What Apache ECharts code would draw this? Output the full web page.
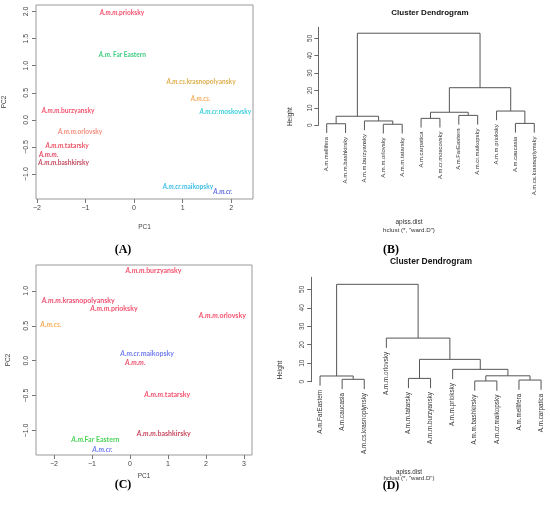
<!DOCTYPE html>
<html>
<head>
<meta charset="utf-8">
<script src="https://cdn.jsdelivr.net/npm/echarts@6/dist/echarts.min.js"></script>
<style>
html,body{margin:0;padding:0;background:#fff}
#chart{width:550px;height:519px}
</style>
</head>
<body>
<div id="chart"></div>
<script>
// panel A - PCA 1
var namesA = ['A.m.m.prioksky','A.m. Far Eastern','A.m.cs.krasnopolyansky','A.m.cs.','A.m.cr.moskovsky','A.m.m.burzyansky','A.m.m.orlovsky','A.m.m.tatarsky','A.m.m.','A.m.m.bashkirsky','A.m.cr.maikopsky','A.m.cr.'];
var pc1A = [-0.25, -0.24, 1.38, 1.37, 1.88, -1.36, -1.11, -1.38, -1.76, -1.45, 1.11, 1.83];
var pc2A = [1.98, 1.20, 0.70, 0.39, 0.14, 0.17, -0.22, -0.48, -0.65, -0.79, -1.24, -1.33];
var xTicksA = [-2, -1, 0, 1, 2];
var yTicksA = [-1.0, -0.5, 0.0, 0.5, 1.0, 1.5, 2.0];

// panel C - PCA 2
var namesC = ['A.m.m.burzyansky','A.m.m.krasnopolyansky','A.m.m.prioksky','A.m.m.orlovsky','A.m.cs.','A.m.cr.maikopsky','A.m.m.','A.m.m.tatarsky','A.m.m.bashkirsky','A.m.Far Eastern','A.m.cr.'];
var pc1C = [0.62, -1.36, -0.42, 2.43, -2.08, 0.45, 0.14, 0.98, 0.89, -0.91, -0.72];
var pc2C = [1.29, 0.86, 0.75, 0.64, 0.51, 0.10, -0.03, -0.49, -1.04, -1.13, -1.27];
var xTicksC = [-2, -1, 0, 1, 2, 3];
var yTicksC = [-1.0, -0.5, 0.0, 0.5, 1.0];

// panel B - dendrogram (leaf order as plotted, R style merge matrix)
var leavesB = ['A.m.mellifera','A.m.m.bashkirsky','A.m.m.burzyansky','A.m.m.orlovsky','A.m.m.tatarsky','A.m.carpatica','A.m.cr.moscovsky','A.m.FarEastern','A.m.cr.maikopsky','A.m.m.prioksky','A.m.caucasia','A.m.cs.krasnoplymsky'];
var mergesB = [[-1,-2],[-4,-5],[-3,2],[1,3],[-6,-7],[-8,-9],[5,6],[-11,-12],[-10,8],[7,9],[4,10]];
var heightsB = [0.9, 0.6, 2.5, 5.2, 4.0, 5.7, 7.5, 1.1, 8.2, 21.6, 52.9];

// panel D - dendrogram
var leavesD = ['A.m.FarEastern','A.m.caucasia','A.m.cs.krasnoplynsky','A.m.m.orlovsky','A.m.m.tatarsky','A.m.m.burzyansky','A.m.m.prioksky','A.m.m.bashkirsky','A.m.cr.maikopsky','A.m.mellifera','A.m.carpatica'];
var mergesD = [[-2,-3],[-1,1],[-5,-6],[-8,-9],[-10,-11],[4,5],[-7,6],[3,7],[-4,8],[2,9]];
var heightsD = [1.3, 3.1, 1.8, 0.4, 0.9, 3.2, 6.7, 12.1, 23.6, 52.7];
var heightTicks = [0, 10, 20, 30, 40, 50];

var colorsA = ['#f0284a','#10c060','#d49a20','#f59a38','#10c4d4','#f0284a','#f2705c','#e8283f','#e01c3c','#b81c34','#10aee0','#3c4cd8'];
var colorsC = ['#f0284a','#e8244c','#f0284a','#f0284a','#f59a30','#4c5ce8','#f0284a','#f0284a','#b81c34','#20c830','#4c5ce8'];

var SANS = 'Liberation Sans';
var LBL = 'Lato';

function minus(s){ return String(s).replace('-', '\u2212'); }

function pcaData(names, xs, ys, colors, fs) {
    return names.map(function(n, i){
        var m = n.match(/^(A\.m\.(?:m\.|cs\.|cr\.)?)(.*)$/);
        return {
            value: [xs[i], ys[i]],
            label: {
                formatter: '{i|' + m[1] + '}{n|' + m[2] + '}',
                rich: {
                    i: {fontStyle:'italic', fontWeight:'bold', color:colors[i], fontSize:fs, fontFamily:LBL},
                    n: {fontWeight:'bold', color:colors[i], fontSize:fs, fontFamily:LBL}
                }
            }
        };
    });
}

// walk the merge matrix, give line segments and leaf ends
function buildDendro(leaves, merges, heights) {
    var hang = 0.1 * Math.max.apply(null, heights);
    var nodeX = [], segs = [], ends = [];
    merges.forEach(function(m, j){
        var h = heights[j];
        var xs = m.map(function(c){ return c < 0 ? -c : nodeX[c-1]; });
        m.forEach(function(c, k){
            var y0;
            if (c < 0) { y0 = h - hang; ends.push([-c, y0, leaves[-c-1]]); }
            else y0 = heights[c-1];
            segs.push([xs[k], y0, xs[k], h]);
        });
        segs.push([xs[0], h, xs[1], h]);
        nodeX[j] = (xs[0] + xs[1]) / 2;
    });
    return {segs: segs, ends: ends};
}

var dB = buildDendro(leavesB, mergesB, heightsB);
var dD = buildDendro(leavesD, mergesD, heightsD);

function pcaX(gi, min, max, ticks, gap) {
    return {
        gridIndex: gi, type: 'value', min: min, max: max,
        splitLine: {show:false}, axisLine: {show:false, onZero:false},
        axisTick: {show:true, length:4, customValues: ticks, lineStyle:{color:'#777'}},
        axisLabel: {customValues: ticks, fontSize:7, fontFamily:SANS, color:'#444', margin:6,
            formatter: function(v){ return minus(v); }},
        name: 'PC1', nameLocation: 'middle', nameGap: gap,
        nameTextStyle: {fontSize:6.5, fontFamily:SANS, color:'#444'}
    };
}
function pcaY(gi, min, max, ticks, gap) {
    return {
        gridIndex: gi, type: 'value', min: min, max: max,
        splitLine: {show:false}, axisLine: {show:false, onZero:false},
        axisTick: {show:true, length:4, customValues: ticks, lineStyle:{color:'#777'}},
        axisLabel: {customValues: ticks, fontSize:7, fontFamily:SANS, color:'#444', margin:6, rotate:90,
            formatter: function(v){ return minus(v.toFixed(1)); }},
        name: 'PC2', nameLocation: 'middle', nameGap: gap,
        nameTextStyle: {fontSize:6.5, fontFamily:SANS, color:'#444'}
    };
}
function hiddenAxis(gi, min, max) {
    return {gridIndex: gi, type:'value', min:min, max:max, show:false};
}
function heightAxis(gi, max, fs) {
    return {
        gridIndex: gi, type:'value', min:0, max:max,
        splitLine: {show:false},
        axisLine: {show:true, onZero:false, lineStyle:{color:'#666', width:1}},
        axisTick: {show:true, length:4, customValues: heightTicks, lineStyle:{color:'#666'}},
        axisLabel: {customValues: heightTicks, fontSize:fs, fontFamily:SANS, color:'#444', margin:5, rotate:90}
    };
}

function segSeries(seg, xi, yi) {
    return {
        type: 'custom', xAxisIndex: xi, yAxisIndex: yi, silent: true,
        encode: {x:[0,2], y:[1,3]},
        data: seg,
        renderItem: function(params, api){
            var a = api.coord([api.value(0), api.value(1)]);
            var b = api.coord([api.value(2), api.value(3)]);
            return {type:'line', shape:{x1:a[0], y1:a[1], x2:b[0], y2:b[1]},
                style:{stroke:'#555', lineWidth:1}};
        }
    };
}
function leafSeries(ends, xi, yi, fs) {
    return {
        type: 'custom', xAxisIndex: xi, yAxisIndex: yi, silent: true,
        encode: {x:0, y:1},
        dimensions: ['x','y','name'],
        data: ends,
        renderItem: function(params, api){
            var p = api.coord([api.value(0), api.value(1)]);
            return {type:'text', x:p[0], y:p[1] + 4, rotation: Math.PI/2,
                style:{text: ends[params.dataIndex][2], fontSize:fs, fontFamily:SANS,
                    fill:'#333', align:'right', verticalAlign:'middle'}};
        }
    };
}

function txt(x, y, s, fs, opt) {
    opt = opt || {};
    return {type:'text', x:x, y:y, rotation: opt.rot || 0, silent:true,
        style:{text:s, fontSize:fs, fontFamily: opt.family || SANS, fontWeight: opt.weight || 'normal',
            fill: opt.color || '#333', align:'center', verticalAlign:'middle'}};
}

var chart = echarts.init(document.getElementById('chart'));
chart.setOption({
    backgroundColor: '#fff',
    animation: false,
    grid: [
        {left:35, top:5, width:218, height:194, show:true, borderColor:'#999', borderWidth:1},
        {left:36, top:265, width:216, height:190, show:true, borderColor:'#999', borderWidth:1},
        {left:318.4, top:27.3, width:224.2, height:118.9},
        {left:318.4, top:27.3, width:224.2, height:98},
        {left:311.2, top:277.3, width:238.7, height:126.6},
        {left:311.2, top:277.3, width:238.7, height:104.4}
    ],
    xAxis: [
        pcaX(0, -2.02, 2.45, xTicksA, 25),
        pcaX(1, -2.47, 3.21, xTicksC, 18),
        hiddenAxis(2, 0.56, 12.44),
        hiddenAxis(3, 0.56, 12.44),
        hiddenAxis(4, 0.6, 11.4),
        hiddenAxis(5, 0.6, 11.4)
    ],
    yAxis: [
        pcaY(0, -1.46, 2.12, yTicksA, 28),
        pcaY(1, -1.35, 1.37, yTicksC, 24),
        hiddenAxis(2, -12, 56.3),
        heightAxis(3, 56.3, 6.5),
        hiddenAxis(4, -12, 56.5),
        heightAxis(5, 56.5, 6.5)
    ],
    series: [
        {type:'scatter', xAxisIndex:0, yAxisIndex:0, symbolSize:1, itemStyle:{color:'rgba(0,0,0,0)'}, silent:true,
            label:{show:true, position:'inside'}, data: pcaData(namesA, pc1A, pc2A, colorsA, 6.6)},
        {type:'scatter', xAxisIndex:1, yAxisIndex:1, symbolSize:1, itemStyle:{color:'rgba(0,0,0,0)'}, silent:true,
            label:{show:true, position:'inside'}, data: pcaData(namesC, pc1C, pc2C, colorsC, 7)},
        segSeries(dB.segs, 2, 2),
        leafSeries(dB.ends, 2, 2, 5.9),
        segSeries(dD.segs, 4, 4),
        leafSeries(dD.ends, 4, 4, 6.3)
    ],
    graphic: [
        txt(430, 13, 'Cluster Dendrogram', 8, {weight:'bold', color:'#111'}),
        txt(290, 116.7, 'Height', 6.5, {rot:Math.PI/2}),
        txt(409, 222.7, 'apiss.dist', 6.5),
        txt(409, 230, 'hclust (*, "ward.D")', 6.2),
        txt(431, 262, 'Cluster Dendrogram', 8.5, {weight:'bold', color:'#111'}),
        txt(280.7, 370, 'Height', 6.5, {rot:Math.PI/2}),
        txt(409, 472.5, 'apiss.dist', 6.3),
        txt(409, 478.5, 'hclust (*, "ward.D")', 6.1),
        txt(123, 250, '(A)', 12, {weight:'bold', family:'Liberation Serif', color:'#000'}),
        txt(391, 250, '(B)', 12, {weight:'bold', family:'Liberation Serif', color:'#000'}),
        txt(123, 485, '(C)', 12, {weight:'bold', family:'Liberation Serif', color:'#000'}),
        txt(391, 486, '(D)', 12, {weight:'bold', family:'Liberation Serif', color:'#000'})
    ]
});
</script>
</body>
</html>
